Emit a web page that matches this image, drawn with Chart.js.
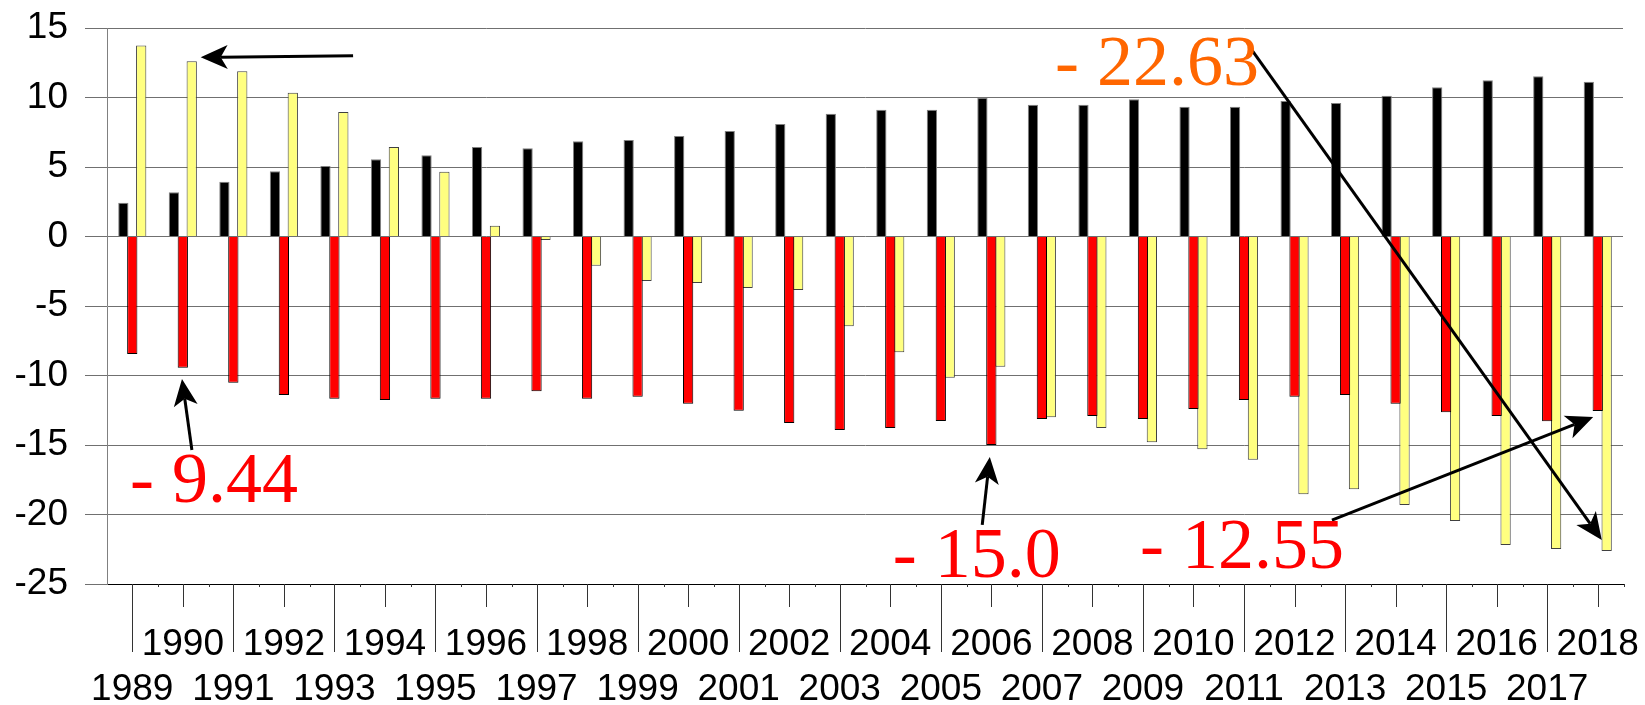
<!DOCTYPE html>
<html>
<head>
<meta charset="utf-8">
<script src="https://cdn.jsdelivr.net/npm/chart.js@4.4.0/dist/chart.umd.min.js"></script>
<style>
  html, body { margin: 0; padding: 0; background: #fff; }
  canvas { display: block; }
</style>
</head>
<body>
<canvas id="myChart" width="1645" height="705"></canvas>
<script>
//Data
let years = ['1989','1990','1991','1992','1993','1994','1995','1996','1997','1998',
             '1999','2000','2001','2002','2003','2004','2005','2006','2007','2008',
             '2009','2010','2011','2012','2013','2014','2015','2016','2017','2018'];

let blackVals = [2.43, 3.18, 3.94, 4.69, 5.07, 5.55, 5.84, 6.44, 6.35, 6.85,
                 6.94, 7.23, 7.59, 8.09, 8.83, 9.12, 9.12, 9.99, 9.48, 9.48,
                 9.87, 9.34, 9.34, 9.75, 9.6, 10.13, 10.73, 11.24, 11.52, 11.14];

let redVals = [-8.45, -9.44, -10.52, -11.4, -11.67, -11.76, -11.67, -11.67, -11.14, -11.67,
               -11.52, -12.03, -12.53, -13.42, -13.92, -13.78, -13.27, -15.0, -13.13, -12.91,
               -13.13, -12.41, -11.76, -11.52, -11.4, -12.03, -12.65, -12.91, -13.3, -12.55];

let yellowVals = [13.75, 12.6, 11.88, 10.35, 8.96, 6.44, 4.66, 0.78, -0.25, -2.1,
                  -3.2, -3.35, -3.7, -3.85, -6.46, -8.33, -10.16, -9.37, -13.0, -13.78,
                  -14.8, -15.3, -16.06, -18.55, -18.19, -19.32, -20.47, -22.2, -22.48, -22.63];

let yTicks = [15, 10, 5, 0, -5, -10, -15, -20, -25];

// callouts, in data units (x = category index, y = value)
let callouts = [
  { arrow: [4.37, 13.0, 1.354, 12.89] },
  { text: '- 9.44', color: '#ff0000', at: [-0.045, -19.1], arrow: [1.18, -15.36, 0.984, -10.25] },
  { text: '- 15.0', color: '#ff0000', at: [15.05, -24.5], arrow: [16.82, -20.75, 16.97, -15.86] },
  { text: '- 12.55', color: '#ff0000', at: [19.94, -23.85], arrow: [23.74, -20.4, 28.91, -12.99] },
  { text: '- 22.63', color: '#ff6600', at: [18.26, 10.9], arrow: [22.1, 13.7, 29.08, -21.83] }
];

function drawArrow(ctx, x1, y1, x2, y2) {
  let dx = x2 - x1, dy = y2 - y1;
  let len = Math.sqrt(dx * dx + dy * dy);
  let ux = dx / len, uy = dy / len;
  let nx = -uy, ny = ux;
  let L = 27, W = 12, notch = 7;
  let bx = x2 - ux * L, by = y2 - uy * L;
  let mx = x2 - ux * (L - notch), my = y2 - uy * (L - notch);
  ctx.beginPath();
  ctx.moveTo(x1, y1);
  ctx.lineTo(mx, my);
  ctx.stroke();
  ctx.beginPath();
  ctx.moveTo(x2, y2);
  ctx.lineTo(bx + nx * W, by + ny * W);
  ctx.lineTo(mx, my);
  ctx.lineTo(bx - nx * W, by - ny * W);
  ctx.closePath();
  ctx.fill();
}

let extras = {
  id: 'extras',
  afterDraw(chart) {
    let ctx = chart.ctx;
    let xs = chart.scales.x, ys = chart.scales.y;
    let base = chart.chartArea.bottom;
    let half = (xs.right - xs.left) / years.length / 2;
    ctx.save();
    ctx.lineWidth = 1;
    ctx.strokeStyle = '#333';
    for (let i = 0; i < years.length; i++) {
      let px = Math.round(xs.getPixelForValue(i)) + 0.5;
      ctx.beginPath();
      ctx.moveTo(px, base);
      ctx.lineTo(px, base + (i % 2 === 0 ? 68 : 23));
      ctx.stroke();
      let bx = Math.round(px + half) + 0.5;
      ctx.beginPath();
      ctx.moveTo(bx, base);
      ctx.lineTo(bx, base + 3);
      ctx.stroke();
    }
    ctx.restore();

    ctx.save();
    ctx.fillStyle = '#000';
    ctx.strokeStyle = '#000';
    ctx.lineWidth = 3;
    callouts.forEach(c => {
      if (c.arrow) {
        let a = c.arrow;
        drawArrow(ctx, xs.getPixelForValue(a[0]), ys.getPixelForValue(a[1]),
                       xs.getPixelForValue(a[2]), ys.getPixelForValue(a[3]));
      }
    });
    ctx.font = '72px "Liberation Serif", "Times New Roman", serif';
    ctx.textAlign = 'left';
    ctx.textBaseline = 'alphabetic';
    callouts.forEach(c => {
      if (c.text) {
        ctx.fillStyle = c.color;
        ctx.fillText(c.text, xs.getPixelForValue(c.at[0]), ys.getPixelForValue(c.at[1]));
      }
    });
    ctx.restore();
  }
};

var ctx = document.getElementById('myChart').getContext('2d');
var myChart = new Chart(ctx, {
  type: 'bar',
  data: {
    labels: years,
    datasets: [{
      data: blackVals,
      backgroundColor: '#000000',
      borderColor: '#808080',
      borderWidth: 1
    }, {
      data: redVals,
      backgroundColor: '#ff0000',
      borderColor: '#000000',
      borderWidth: 1
    }, {
      data: yellowVals,
      backgroundColor: '#ffff80',
      borderColor: '#404040',
      borderWidth: 1
    }]
  },
  options: {
    responsive: false,
    animation: false,
    devicePixelRatio: 1,
    categoryPercentage: 0.53,
    barPercentage: 1.15,
    layout: { padding: { top: 28, right: 22, left: 0, bottom: 0 } },
    plugins: { legend: { display: false }, tooltip: { enabled: false } },
    scales: {
      x: {
        grid: { display: false, drawTicks: false },
        border: { display: true, color: '#000', width: 1 },
        ticks: {
          autoSkip: false,
          maxRotation: 0,
          minRotation: 0,
          padding: 38,
          color: '#000',
          font: { family: '"Liberation Sans", Arial, sans-serif', size: 37, lineHeight: 45 / 37 },
          callback: function(val, i) {
            return i % 2 === 0 ? ['', years[i]] : [years[i]];
          }
        },
        afterFit: function(scale) {
          scale.height = 121;
          scale.paddingLeft = 0;
          scale.paddingRight = 0;
        }
      },
      y: {
        min: -25,
        max: 15,
        afterBuildTicks: function(axis) {
          axis.ticks = yTicks.map(v => ({ value: v }));
        },
        grid: { color: '#707070', lineWidth: 1, tickLength: 22 },
        border: { display: true, color: '#808080', width: 1 },
        ticks: {
          padding: 17,
          color: '#000',
          font: { family: '"Liberation Sans", Arial, sans-serif', size: 37 }
        },
        afterFit: function(scale) {
          scale.width = 107;
          scale.paddingTop = 0;
          scale.paddingBottom = 0;
        }
      }
    }
  },
  plugins: [extras]
});
</script>
</body>
</html>
